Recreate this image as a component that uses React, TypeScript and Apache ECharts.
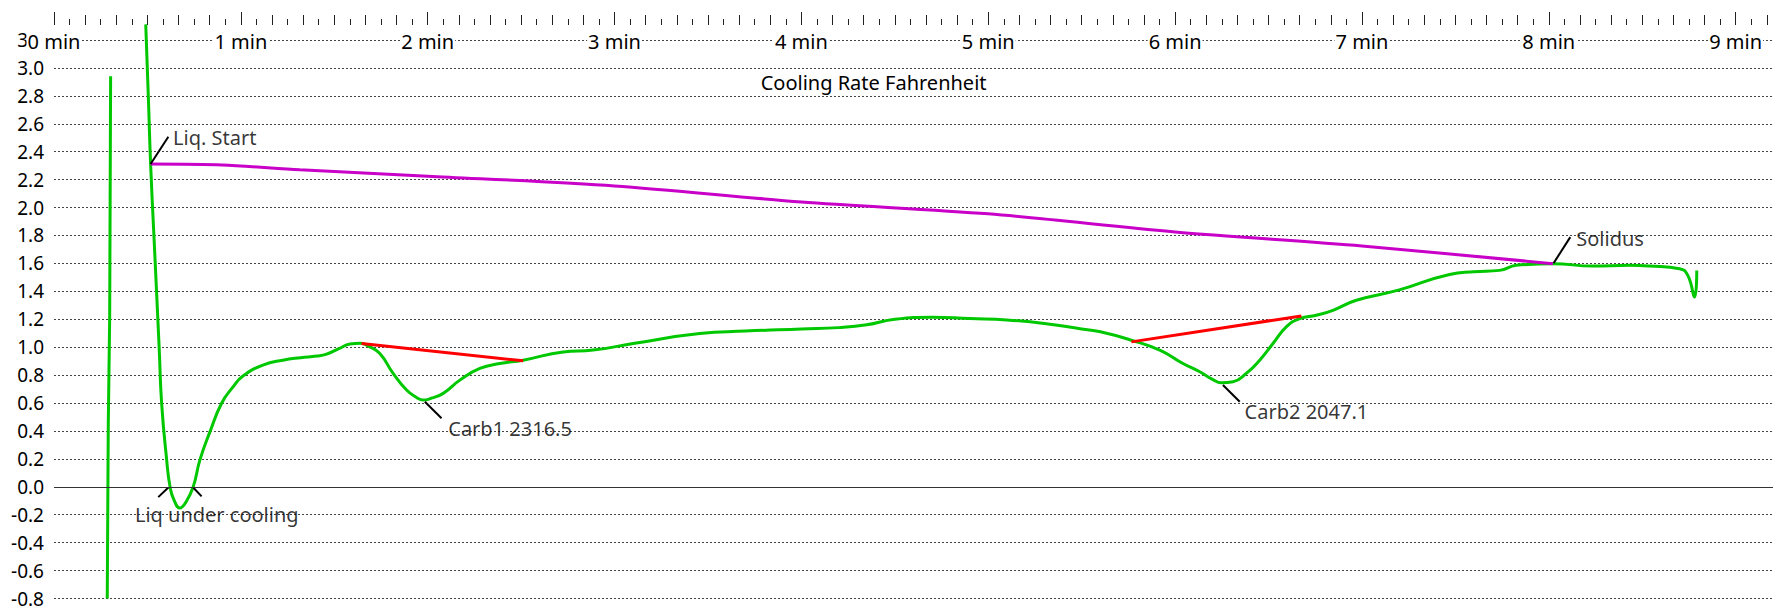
import React, { useEffect, useRef } from "react";
import * as echarts from "echarts";

// ---- axes ----
const X_MIN = 0;
const X_MAX = 9.2;
const MINUTE_TICKS = [0, 1, 2, 3, 4, 5, 6, 7, 8, 9];
const Y_MIN = -0.8;
const Y_MAX = 3.2;
const Y_STEP = 0.2;

// ---- series data (time in minutes, cooling rate) ----
const GREEN_A: [number, number][] = [
  [0.285, -0.8],
  [0.2905, 0.45],
  [0.298, 1.22],
  [0.303, 2.94],
];

const GREEN_B_T = [
  0.491, 0.505, 0.517, 0.535, 0.563, 0.576, 0.603, 0.621, 0.642, 0.674, 0.706, 0.745,
  0.781, 0.835, 0.897, 0.955, 1.011, 1.118, 1.225, 1.32, 1.406, 1.459, 1.525, 1.584,
  1.64, 1.69, 1.744, 1.815, 1.887, 1.94, 1.976, 2.02, 2.083, 2.172, 2.279, 2.386,
  2.511, 2.725, 2.885, 3.1, 3.456, 3.7, 4.0, 4.2, 4.35, 4.5, 4.7, 4.9, 5.1, 5.3,
  5.5, 5.6, 5.766, 5.918, 6.042, 6.132, 6.2, 6.248, 6.31, 6.381, 6.453, 6.524,
  6.595, 6.667, 6.756, 6.845, 6.97, 7.2, 7.469, 7.6, 7.737, 7.826, 8.022, 8.236,
  8.432, 8.539, 8.7, 8.744, 8.78, 8.792,
];
const GREEN_B_V = [
  3.312, 2.788, 2.312, 1.793, 0.991, 0.6, 0.193, 0.0, -0.093, -0.152, -0.11, 0.0,
  0.193, 0.395, 0.598, 0.71, 0.793, 0.871, 0.907, 0.925, 0.936, 0.95, 0.99, 1.022,
  1.028, 1.002, 0.955, 0.812, 0.693, 0.64, 0.621, 0.635, 0.669, 0.764, 0.848, 0.883,
  0.907, 0.966, 0.979, 1.026, 1.098, 1.115, 1.13, 1.14, 1.16, 1.2, 1.215, 1.205,
  1.195, 1.17, 1.13, 1.11, 1.05, 0.979, 0.883, 0.824, 0.77, 0.745, 0.752, 0.812,
  0.907, 1.026, 1.145, 1.205, 1.229, 1.264, 1.336, 1.41, 1.521, 1.54, 1.55, 1.586,
  1.598, 1.581, 1.586, 1.581, 1.562, 1.514, 1.359, 1.55,
];

const PURPLE_T = [0.517, 0.9, 1.316, 2.0, 3.0, 4.0, 5.0, 6.0, 7.0, 8.022];
const PURPLE_V = [2.312, 2.305, 2.27, 2.225, 2.155, 2.04, 1.955, 1.825, 1.725, 1.598];

const RED_CARB1: [number, number][] = [
  [1.646, 1.026],
  [2.511, 0.902],
];
const RED_CARB2: [number, number][] = [
  [5.766, 1.038],
  [6.676, 1.224],
];

// ---- annotations ----
const LEADERS: [number, number][][] = [
  [[0.517, 2.312], [0.612, 2.507]],
  [[0.558, -0.074], [0.612, -0.005]],
  [[0.745, -0.005], [0.79, -0.069]],
  [[1.985, 0.609], [2.074, 0.491]],
  [[6.256, 0.729], [6.346, 0.609]],
  [[8.026, 1.602], [8.115, 1.788]],
];
const LABEL_TEXTS = ["Liq. Start", "Liq under cooling", "Carb1 2316.5", "Carb2 2047.1", "Solidus"];
const LABEL_T = [0.637, 0.433, 2.11, 6.372, 8.147];
const LABEL_V = [2.499, -0.199, 0.421, 0.54, 1.781];

const TITLE = "Cooling Rate Fahrenheit";

const GREEN = "#00c800";
const PURPLE = "#c800c8";
const RED = "#ff0000";
const FONT = "Noto Sans";

export default function App() {
  const ref = useRef<HTMLDivElement>(null);

  useEffect(() => {
    if (!ref.current) return;
    const chart = echarts.init(ref.current, null, { renderer: "svg" });

    const tenSec: number[] = [];
    const fiveSec: number[] = [];
    for (let i = 0; i * 5 <= X_MAX * 60 + 1e-9; i++) {
      fiveSec.push((i * 5) / 60);
      if (i % 2 === 0) tenSec.push((i * 5) / 60);
    }

    const baseX = {
      type: "value" as const,
      gridIndex: 0,
      position: "top" as const,
      offset: 15,
      min: X_MIN,
      max: X_MAX,
      z: 5,
      axisLine: { show: false, onZero: false },
      splitLine: { show: false },
    };

    const lineSeries = (data: [number, number][], color: string, width: number, extra: any = {}) => ({
      type: "line",
      data,
      symbol: "none",
      showSymbol: false,
      clip: false,
      silent: true,
      lineStyle: { color, width },
      ...extra,
    });

    const greenB = GREEN_B_T.map((t, i) => [t, GREEN_B_V[i]] as [number, number]);
    const purple = PURPLE_T.map((t, i) => [t, PURPLE_V[i]] as [number, number]);

    const option: any = {
      animation: false,
      backgroundColor: "#fff",
      grid: { left: 54, right: 9, top: 40, bottom: 9, containLabel: false },
      xAxis: [
        {
          ...baseX,
          axisTick: {
            show: true,
            customValues: MINUTE_TICKS,
            length: 13,
            lineStyle: { color: "#222", width: 1 },
          },
          axisLabel: {
            show: true,
            inside: true,
            margin: 6,
            customValues: MINUTE_TICKS,
            formatter: (v: number) => `${Math.round(v)} min`,
            color: "#000",
            fontFamily: FONT,
            fontSize: 20,
            backgroundColor: "#fff",
            padding: [0, 1],
          },
        },
        {
          ...baseX,
          axisTick: { show: true, customValues: tenSec, length: 10, lineStyle: { color: "#222", width: 1 } },
          axisLabel: { show: false },
        },
        {
          ...baseX,
          axisTick: { show: true, customValues: fiveSec, length: 6, lineStyle: { color: "#222", width: 1 } },
          axisLabel: { show: false },
        },
      ],
      yAxis: {
        type: "value",
        min: Y_MIN,
        max: Y_MAX,
        interval: Y_STEP,
        axisLine: { show: false },
        axisTick: { show: false },
        axisLabel: {
          margin: 10,
          color: "#000",
          fontFamily: FONT,
          fontSize: 19,
          formatter: (v: number) => (Math.abs(v) < 1e-9 ? 0 : v).toFixed(1),
        },
        splitLine: {
          show: true,
          lineStyle: { color: "#444", width: 1, type: [2, 2] },
        },
      },
      graphic: [
        {
          type: "text",
          x: 873.6,
          y: 82.5,
          z: 10,
          style: {
            text: TITLE,
            fill: "#000",
            font: `20px "${FONT}"`,
            textAlign: "center",
            textVerticalAlign: "middle",
          },
        },
      ],
      series: [
        lineSeries(GREEN_A, GREEN, 3, {
          markLine: {
            silent: true,
            symbol: "none",
            label: { show: false },
            lineStyle: { type: "solid", color: "#333", width: 1 },
            data: [{ yAxis: 0 }],
          },
        }),
        lineSeries(greenB, GREEN, 3, { smooth: 0.5 }),
        lineSeries(purple, PURPLE, 3, { smooth: 0.3 }),
        lineSeries(RED_CARB1, RED, 3),
        lineSeries(RED_CARB2, RED, 3),
        ...LEADERS.map((pts) => lineSeries(pts, "#000", 2)),
        {
          type: "scatter",
          symbolSize: 0,
          silent: true,
          clip: false,
          data: LABEL_TEXTS.map((text, i) => ({
            value: [LABEL_T[i], LABEL_V[i]],
            label: {
              show: true,
              position: "right",
              distance: 0,
              formatter: text,
              color: "#000",
              fontFamily: FONT,
              fontSize: 20,
            },
          })),
        },
      ],
    };

    chart.setOption(option);
    return () => chart.dispose();
  }, []);

  return (
    <div
      ref={ref}
      style={{ position: "absolute", left: 0, top: 0, width: 1782, height: 608, background: "#fff" }}
    />
  );
}
